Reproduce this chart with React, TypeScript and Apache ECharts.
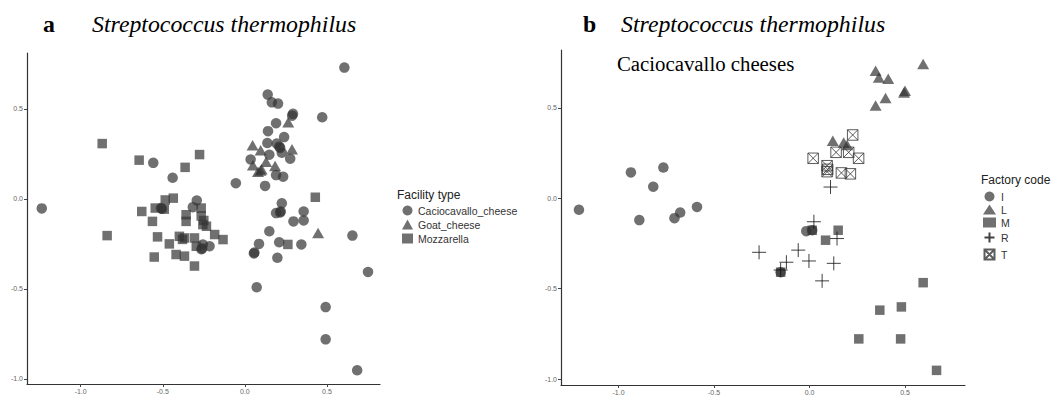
import React, { useEffect, useRef } from 'react';
import * as echarts from 'echarts';

// ---- categories & tick labels ----
const facilityTypes = ['Caciocavallo_cheese', 'Goat_cheese', 'Mozzarella'];
const factoryCodes = ['I', 'L', 'M', 'R', 'T'];
const tickValues = [-1.0, -0.5, 0.0, 0.5];

// ---- panel a: Facility type ----
const caciocavalloPoints = [
  [0.606, 0.729], [0.139, 0.579], [0.164, 0.536], [0.202, 0.529], [0.293, 0.472], [0.288, 0.462],
  [0.471, 0.453], [0.190, 0.420], [0.141, 0.376], [0.239, 0.343], [0.137, 0.310], [0.194, 0.307],
  [0.215, 0.283], [0.210, 0.290], [0.149, 0.245], [0.225, 0.256], [0.276, 0.223], [0.035, 0.219],
  [0.190, 0.132], [0.233, 0.123], [-0.055, 0.087], [0.123, 0.072], [0.225, -0.025], [0.215, -0.076],
  [0.218, -0.070], [0.190, -0.079], [0.358, -0.070], [0.358, -0.120], [0.296, -0.125], [0.149, -0.180],
  [0.655, -0.204], [0.086, -0.250], [0.209, -0.241], [0.344, -0.253], [0.055, -0.303], [0.058, -0.298],
  [0.198, -0.327], [0.750, -0.406], [0.072, -0.491], [0.492, -0.601], [0.492, -0.780], [0.684, -0.952],
  [-1.237, -0.053], [-0.558, 0.200], [-0.440, 0.117], [-0.293, -0.009], [-0.317, -0.046], [-0.511, -0.051],
  [-0.505, -0.055], [-0.256, -0.253], [-0.215, -0.263], [-0.265, -0.280], [-0.260, -0.275],
];
const goatCheesePoints = [
  [0.264, 0.426], [0.047, 0.298], [0.096, 0.270], [0.287, 0.275], [0.049, 0.187], [0.129, 0.206],
  [0.184, 0.182], [0.102, 0.164], [0.095, 0.158], [0.080, 0.151], [0.446, -0.189],
];
const mozzarellaPoints = [
  [-0.869, 0.307], [-0.644, 0.215], [-0.276, 0.246], [-0.364, 0.175], [0.429, 0.009], [-0.839, -0.204],
  [-0.436, 0.004], [-0.485, -0.006], [-0.546, -0.051], [-0.491, -0.057], [-0.628, -0.070], [-0.563, -0.125],
  [-0.266, -0.051], [-0.358, -0.088], [-0.358, -0.125], [-0.266, -0.095], [-0.256, -0.143], [-0.234, -0.152],
  [-0.250, -0.120], [-0.532, -0.211], [-0.399, -0.208], [-0.368, -0.217], [-0.380, -0.225], [-0.460, -0.250],
  [-0.307, -0.217], [-0.184, -0.198], [-0.133, -0.226], [-0.296, -0.263], [-0.419, -0.309], [-0.552, -0.323],
  [-0.368, -0.318], [-0.307, -0.373], [0.262, -0.253],
];

// ---- panel b: Factory code (Caciocavallo cheeses) ----
const factoryI = [
  [-0.935, 0.143], [-0.765, 0.170], [-0.818, 0.064], [-1.207, -0.064], [-0.891, -0.121], [-0.707, -0.110],
  [-0.677, -0.079], [-0.589, -0.048], [-0.017, -0.182], [0.014, -0.177], [-0.151, -0.409],
];
const factoryL = [
  [0.346, 0.705], [0.363, 0.668], [0.412, 0.661], [0.595, 0.742], [0.500, 0.595], [0.495, 0.585],
  [0.398, 0.555], [0.346, 0.513], [0.122, 0.318], [0.179, 0.309], [0.197, 0.294],
];
const factoryM = [
  [0.014, -0.177], [0.150, -0.177], [0.084, -0.232], [-0.151, -0.409], [0.595, -0.467], [0.368, -0.619],
  [0.481, -0.601], [0.258, -0.778], [0.477, -0.778], [0.665, -0.952],
];
const factoryR = [
  [0.023, -0.130], [0.144, -0.223], [-0.264, -0.299], [-0.059, -0.287], [-0.003, -0.347], [0.127, -0.360],
  [-0.121, -0.354], [0.066, -0.457], [-0.151, -0.397], [0.110, 0.062],
];
const factoryT = [
  [0.226, 0.350], [0.139, 0.254], [0.205, 0.254], [0.257, 0.221], [0.019, 0.221], [0.092, 0.180],
  [0.092, 0.147], [0.095, 0.160], [0.167, 0.140], [0.214, 0.135],
];

const PLUS = 'path://M5,0V10M0,5H10';
const BOXX = 'path://M0,0H10V10H0ZM0,0L10,10M10,0L0,10';

const SANS = '"Liberation Sans", Arial, sans-serif';
const SERIF = '"Liberation Serif", "Times New Roman", serif';

function axis(min: number, max: number, gridIndex: number) {
  return {
    type: 'value',
    gridIndex,
    min,
    max,
    axisLine: { show: true, onZero: false, lineStyle: { color: '#333', width: 1.2 } },
    axisTick: { show: true, length: 3, lineStyle: { color: '#444' }, customValues: tickValues },
    axisLabel: {
      customValues: tickValues,
      formatter: (v: number) => v.toFixed(1),
      fontSize: 7,
      color: '#666666',
      fontFamily: SANS,
      margin: 4,
    },
    splitLine: { show: false },
  };
}

const fillStyle = { color: '#333', opacity: 0.7 };

export default function App() {
  const ref = useRef<HTMLDivElement>(null);
  useEffect(() => {
    if (!ref.current) return;
    const chart = echarts.init(ref.current, null, { renderer: 'svg' });
    const sc = (name: string, data: number[][], idx: number, symbol: string, size: any, itemStyle: any) => ({
      type: 'scatter',
      name,
      data,
      xAxisIndex: idx,
      yAxisIndex: idx,
      symbol,
      symbolSize: size,
      itemStyle,
      silent: true,
    });
    chart.setOption({
      animation: false,
      backgroundColor: '#ffffff',
      grid: [
        { left: 27, top: 53, width: 353, height: 331 },
        { left: 561, top: 50, width: 404, height: 335 },
      ],
      xAxis: [axis(-1.327, 0.823, 0), axis(-1.301, 0.814, 1)],
      yAxis: [axis(-1.028, 0.81, 0), axis(-1.033, 0.82, 1)],
      legend: [
        {
          data: facilityTypes,
          orient: 'vertical',
          left: 402,
          top: 205,
          padding: 0,
          itemWidth: 11,
          itemHeight: 10,
          itemGap: 3,
          selectedMode: false,
          textStyle: { fontSize: 10.5, color: '#333', fontFamily: SANS },
        },
        {
          data: factoryCodes,
          orient: 'vertical',
          left: 982,
          top: 191,
          padding: 0,
          itemWidth: 13,
          itemHeight: 10,
          itemGap: 2,
          selectedMode: false,
          textStyle: { fontSize: 10.5, color: '#333', fontFamily: SANS },
        },
      ],
      graphic: [
        { type: 'text', x: 43, y: 24, style: { text: 'a', font: `bold 23.8px ${SERIF}`, fill: '#000', verticalAlign: 'middle' } },
        { type: 'text', x: 92, y: 24, style: { text: 'Streptococcus thermophilus', font: `italic 23.8px ${SERIF}`, fill: '#000', verticalAlign: 'middle' } },
        { type: 'text', x: 583, y: 24, style: { text: 'b', font: `bold 23.8px ${SERIF}`, fill: '#000', verticalAlign: 'middle' } },
        { type: 'text', x: 621, y: 24, style: { text: 'Streptococcus thermophilus', font: `italic 23.8px ${SERIF}`, fill: '#000', verticalAlign: 'middle' } },
        { type: 'text', x: 617, y: 63, style: { text: 'Caciocavallo cheeses', font: `20.8px ${SERIF}`, fill: '#000', verticalAlign: 'middle' } },
        { type: 'text', x: 397, y: 195, style: { text: 'Facility type', font: `12px ${SANS}`, fill: '#222', verticalAlign: 'middle' } },
        { type: 'text', x: 981, y: 180, style: { text: 'Factory code', font: `12px ${SANS}`, fill: '#222', verticalAlign: 'middle' } },
      ],
      series: [
        sc(facilityTypes[0], caciocavalloPoints, 0, 'circle', 10.5, fillStyle),
        sc(facilityTypes[1], goatCheesePoints, 0, 'triangle', [12, 10.5], fillStyle),
        sc(facilityTypes[2], mozzarellaPoints, 0, 'rect', 9.5, fillStyle),
        sc(factoryCodes[0], factoryI, 1, 'circle', 10.5, fillStyle),
        sc(factoryCodes[1], factoryL, 1, 'triangle', [12, 10.5], fillStyle),
        sc(factoryCodes[2], factoryM, 1, 'rect', 9.5, fillStyle),
        sc(factoryCodes[3], factoryR, 1, PLUS, 14, { color: 'none', borderColor: '#111', borderWidth: 1, opacity: 0.8 }),
        sc(factoryCodes[4], factoryT, 1, BOXX, 10.5, { color: 'none', borderColor: '#333', borderWidth: 1, opacity: 0.8 }),
      ],
    });
    return () => chart.dispose();
  }, []);
  return (
    <div
      ref={ref}
      style={{ position: 'fixed', left: 0, top: 0, width: 1058, height: 397, background: '#fff' }}
    />
  );
}
